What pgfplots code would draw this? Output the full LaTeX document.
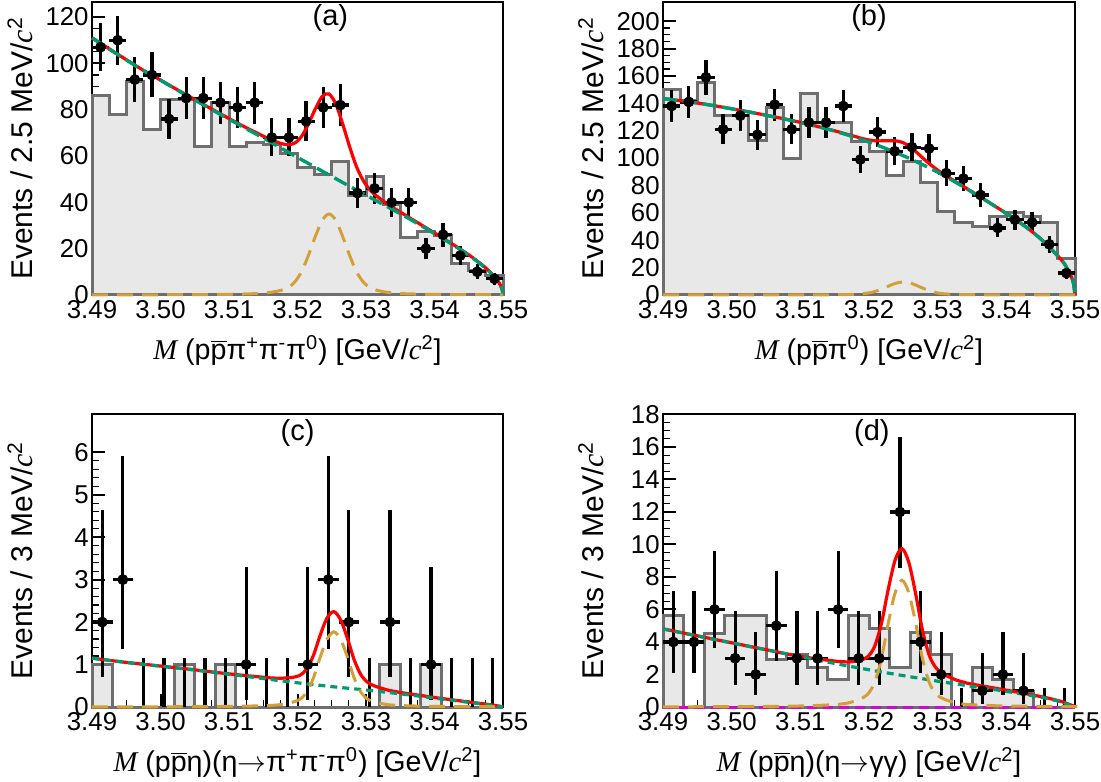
\documentclass[border=0pt]{standalone}
\usepackage{fontspec}
\setmainfont{Liberation Sans}
\newfontfamily\tms{Liberation Serif}
\usepackage{pgfplots}
\pgfplotsset{compat=1.18}

\definecolor{fitred}{RGB}{255,0,0}
\definecolor{bkggreen}{RGB}{0,155,115}
\definecolor{siggold}{RGB}{210,160,55}
\definecolor{histgray}{RGB}{110,110,110}
\definecolor{histfill}{RGB}{232,232,232}
\definecolor{pkmag}{RGB}{220,0,220}

\newcommand{\cc}{{\tms\itshape c}\textsuperscript{2}}
\newcommand{\MM}{{\tms\itshape M}~}
\newcommand{\pbar}{$\overline{\hbox{p}}$}

\tikzset{lett/.style={font=\fontsize{14.5}{16}\selectfont}}

\pgfplotsset{
  panel/.style={
    scale only axis, anchor=south west, clip=false,
    xmin=3.49, xmax=3.55, ymin=0,
    xtick={3.49,3.50,3.51,3.52,3.53,3.54,3.55},
    xticklabels={3.49,3.50,3.51,3.52,3.53,3.54,3.55},
    minor x tick num=3,
    tick pos=left, tick align=inside,
    major tick length=6.5pt, minor tick length=3.3pt,
    every major tick/.append style={line width=1pt, black},
    every minor tick/.append style={line width=0.6pt, black},
    axis line style={line width=1pt},
    /pgf/number format/assume math mode=true,
    tick label style={font=\fontsize{12.9}{14}\selectfont},
    yticklabel style={inner sep=1.5pt},
    xticklabel style={inner sep=2.5pt},
    xlabel style={font=\fontsize{14.3}{16}\selectfont, at={(axis description cs:0.5,-0.19)}, anchor=center},
    ylabel style={font=\fontsize{15}{16}\selectfont, at={(axis description cs:-0.175,0.5)}, anchor=center},
  },
  hist/.style={const plot, fill=histfill, draw=histgray, line width=1.5pt, mark=none},
  dat/.style={only marks, mark=*, mark size=2.5pt, black,
    error bars/x dir=both, error bars/x explicit,
    error bars/y dir=both, error bars/y explicit,
    error bars/error bar style={line width=1.6pt},
    error bars/error mark=none},
  zero/.style={ycomb, line width=1.6pt, black, mark=none},
  tot/.style={fitred, line width=1.6pt, mark=none, smooth},
  bkgA/.style={bkggreen, line width=1.7pt, mark=none, smooth, dash pattern=on 7pt off 3pt},
  bkgC/.style={bkggreen, line width=1.6pt, mark=none, smooth, dash pattern=on 3.5pt off 2.5pt},
  sig/.style={siggold, line width=1.5pt, mark=none, smooth, dash pattern=on 8pt off 4.5pt},
}

\begin{document}
\begin{tikzpicture}
\useasboundingbox (0,0) rectangle (550.5pt,390.5pt);

% ---------------- (a)
\begin{axis}[panel, at={(46pt,243pt)}, width=205.5pt, height=146.5pt,
  ymax=126.5, ytick={0,20,...,120}, minor y tick num=3,
  xlabel={\MM(p\pbar π\textsuperscript{+}π\textsuperscript{-}π\textsuperscript{0}) [GeV/\cc]},
  ylabel={Events / 2.5 MeV/\cc}]
\addplot[hist] coordinates {
(3.4900,86) (3.4925,78) (3.4950,92) (3.4975,71.5) (3.5000,84.5) (3.5025,84.5)
(3.5050,64) (3.5075,83) (3.5100,64) (3.5125,66) (3.5150,65) (3.5175,61)
(3.5200,55) (3.5225,52) (3.5250,57.5) (3.5275,43) (3.5300,51) (3.5325,39)
(3.5350,25) (3.5375,27.5) (3.5400,25.5) (3.5425,13.7) (3.5450,10.5) (3.5475,8.3)
(3.5500,8.3)} \closedcycle;
\addplot[dat] coordinates {
(3.49125,107) +- (0.00125,10.3) (3.49375,110) +- (0.00125,10.5)
(3.49625,93) +- (0.00125,9.6) (3.49875,95) +- (0.00125,9.7)
(3.50125,76) +- (0.00125,8.7) (3.50375,85) +- (0.00125,9.2)
(3.50625,85) +- (0.00125,9.2) (3.50875,83) +- (0.00125,9.1)
(3.51125,81) +- (0.00125,9.0) (3.51375,83) +- (0.00125,9.1)
(3.51625,68) +- (0.00125,8.2) (3.51875,68) +- (0.00125,8.2)
(3.52125,75) +- (0.00125,8.7) (3.52375,81) +- (0.00125,9.0)
(3.52625,82) +- (0.00125,9.1) (3.52875,44) +- (0.00125,6.6)
(3.53125,46) +- (0.00125,6.8) (3.53375,40) +- (0.00125,6.3)
(3.53625,40) +- (0.00125,6.3) (3.53875,20) +- (0.00125,4.5)
(3.54125,26) +- (0.00125,5.1) (3.54375,17) +- (0.00125,4.1)
(3.54625,10) +- (0.00125,3.2) (3.54875,7) +- (0.00125,2.6)};
\addplot[tot] coordinates {
(3.4900,111.05) (3.4925,106.3) (3.4950,101.6) (3.4975,97.0) (3.5000,92.8)
(3.5025,88.55) (3.5050,84.4) (3.5075,80.25) (3.5100,76.2) (3.5125,72.25)
(3.5146,69.2) (3.5156,67.7) (3.5166,66.5) (3.5176,65.4) (3.5186,64.9)
(3.5196,65.6) (3.5206,68.5) (3.5216,73.9) (3.5226,80.3) (3.5236,85.7)
(3.5246,86.8) (3.5256,82.4) (3.5266,73.8) (3.5276,64.1) (3.5286,55.5)
(3.5296,49.4) (3.5306,45.3) (3.5316,42.6) (3.5326,40.4) (3.5336,38.3)
(3.5346,36.5) (3.5375,31.3) (3.5400,26.8) (3.5425,22.2) (3.5450,17.35)
(3.5465,14.05) (3.5475,11.63) (3.5485,8.72) (3.5492,6.2) (3.5496,4.4)
(3.5499,2.2) (3.5500,0)};
\addplot[bkgA] coordinates {
(3.4900,111.0) (3.4925,106.2) (3.4950,101.5) (3.4975,96.9) (3.5000,92.7)
(3.5025,88.4) (3.5050,84.2) (3.5075,80.0) (3.5100,75.9) (3.5125,71.8)
(3.5150,67.8) (3.5175,63.6) (3.5200,59.4) (3.5225,55.3) (3.5250,51.2)
(3.5275,47.1) (3.5300,43.1) (3.5325,39.1) (3.5350,35.1) (3.5375,30.9)
(3.5400,26.5) (3.5425,22.0) (3.5450,17.2) (3.5465,13.9) (3.5475,11.5)
(3.5485,8.6) (3.5492,6.1) (3.5496,4.3) (3.5499,2.1) (3.5500,0)};
\addplot[sig] coordinates {
(3.4900,0.05) (3.4996,0.1) (3.5046,0.16) (3.5096,0.28) (3.5126,0.46)
(3.5146,0.7) (3.5156,0.98) (3.5166,1.4) (3.5176,2.03) (3.5186,3.15)
(3.5196,5.6) (3.5206,10.15) (3.5216,17.15) (3.5226,25.2) (3.5236,32.2)
(3.5246,35) (3.5256,32.2) (3.5266,25.2) (3.5276,17.15) (3.5286,10.15)
(3.5296,5.6) (3.5306,3.15) (3.5316,2.03) (3.5326,1.4) (3.5336,0.98)
(3.5346,0.7) (3.5366,0.46) (3.5396,0.28) (3.5446,0.16) (3.5500,0.1)};
\node[lett] at (rel axis cs:0.58,0.945) {(a)};
\end{axis}

% ---------------- (b)
\begin{axis}[panel, at={(331.5pt,243pt)}, width=206pt, height=146.5pt,
  ymax=214, ytick={0,20,...,200}, minor y tick num=3,
  xlabel={\MM(p\pbar π\textsuperscript{0}) [GeV/\cc]},
  ylabel={Events / 2.5 MeV/\cc}]
\addplot[hist] coordinates {
(3.4900,150) (3.4925,142) (3.4950,155) (3.4975,131) (3.5000,131) (3.5025,113)
(3.5050,137) (3.5075,100) (3.5100,147) (3.5125,126) (3.5150,126) (3.5175,112)
(3.5200,104.6) (3.5225,87.6) (3.5250,97.3) (3.5275,82) (3.5300,60.8) (3.5325,52.8)
(3.5350,49.9) (3.5375,57.2) (3.5400,60) (3.5425,57.2) (3.5450,52.8) (3.5475,26.8)
(3.5500,26.8)} \closedcycle;
\addplot[dat] coordinates {
(3.49125,138) +- (0.00125,11.7) (3.49375,141) +- (0.00125,11.9)
(3.49625,159) +- (0.00125,12.6) (3.49875,121) +- (0.00125,11.0)
(3.50125,131) +- (0.00125,11.4) (3.50375,117) +- (0.00125,10.8)
(3.50625,139) +- (0.00125,11.8) (3.50875,121) +- (0.00125,11.0)
(3.51125,126) +- (0.00125,11.2) (3.51375,126) +- (0.00125,11.2)
(3.51625,138) +- (0.00125,11.7) (3.51875,99) +- (0.00125,9.9)
(3.52125,119) +- (0.00125,10.9) (3.52375,105) +- (0.00125,10.2)
(3.52625,108) +- (0.00125,10.4) (3.52875,107) +- (0.00125,10.3)
(3.53125,89) +- (0.00125,9.4) (3.53375,85) +- (0.00125,9.2)
(3.53625,73) +- (0.00125,8.5) (3.53875,49) +- (0.00125,7.0)
(3.54125,55) +- (0.00125,7.4) (3.54375,53) +- (0.00125,7.3)
(3.54625,37) +- (0.00125,6.1) (3.54875,16) +- (0.00125,4.0)};
\addplot[tot] coordinates {
(3.4900,143.5) (3.4925,141.9) (3.4950,140.2) (3.4975,138.2) (3.5000,136.0)
(3.5025,133.7) (3.5050,131.3) (3.5075,128.8) (3.5100,126.1) (3.5125,123.1)
(3.5150,119.9) (3.5160,118.5) (3.5170,117.1) (3.5180,115.75) (3.5190,114.3)
(3.5200,113.2) (3.5210,112.6) (3.5220,112.6) (3.5230,112.7) (3.5240,112.5)
(3.5250,111.2) (3.5260,108.1) (3.5270,103.9) (3.5280,99.3) (3.5290,95.0)
(3.5300,91.2) (3.5310,87.8) (3.5320,84.65) (3.5330,81.6) (3.5340,78.5)
(3.5350,75.4) (3.5375,67.6) (3.5400,59.55) (3.5425,51.05) (3.5450,41.0)
(3.5475,28.5) (3.5485,22.5) (3.5490,18.0) (3.5495,13.0) (3.5498,8.0) (3.5500,0)};
\addplot[bkgA] coordinates {
(3.4900,143.5) (3.4925,141.9) (3.4950,140.2) (3.4975,138.2) (3.5000,136.0)
(3.5025,133.7) (3.5050,131.3) (3.5075,128.7) (3.5100,126.0) (3.5125,123.0)
(3.5150,119.7) (3.5175,115.9) (3.5200,111.7) (3.5225,106.9) (3.5250,101.7)
(3.5275,95.9) (3.5300,89.7) (3.5325,82.7) (3.5350,75.2) (3.5375,67.5)
(3.5400,59.5) (3.5425,51.0) (3.5450,41.0) (3.5475,28.5) (3.5485,22.5)
(3.5490,18.0) (3.5495,13.0) (3.5498,8.0) (3.5500,0)};
\addplot[sig] coordinates {
(3.4900,0.01) (3.5000,0.03) (3.5100,0.08) (3.5150,0.19) (3.5160,0.27)
(3.5170,0.38) (3.5180,0.55) (3.5190,0.86) (3.5200,1.52) (3.5210,2.76)
(3.5220,4.66) (3.5230,6.84) (3.5240,8.74) (3.5250,9.5) (3.5260,8.74)
(3.5270,6.84) (3.5280,4.66) (3.5290,2.76) (3.5300,1.52) (3.5310,0.86)
(3.5320,0.55) (3.5330,0.38) (3.5340,0.27) (3.5350,0.19) (3.5400,0.08) (3.5500,0.03)};
\node[lett] at (rel axis cs:0.50,0.945) {(b)};
\end{axis}

% ---------------- (c)
\begin{axis}[panel, at={(46pt,37pt)}, width=205.5pt, height=146.5pt,
  ymax=6.9, ytick={0,1,...,6}, minor y tick num=4,
  xlabel={\MM(p\pbar η)(η$\rightarrow$π\textsuperscript{+}π\textsuperscript{-}π\textsuperscript{0}) [GeV/\cc]},
  ylabel={Events / 3 MeV/\cc}]
\addplot[hist] coordinates {
(3.490,1) (3.493,0) (3.496,0) (3.499,0) (3.502,1) (3.505,0) (3.508,1)
(3.511,0) (3.514,0) (3.517,0) (3.520,0) (3.523,0) (3.526,0) (3.529,0)
(3.532,1) (3.535,0) (3.538,1) (3.541,0) (3.544,0) (3.547,0) (3.550,0)} \closedcycle;
\addplot[zero] coordinates {
(3.4975,1.15) (3.5005,1.15) (3.5035,1.15) (3.5065,1.15) (3.5095,1.15) (3.5155,1.15)
(3.5185,1.15) (3.5305,1.15) (3.5365,1.15) (3.5425,1.15) (3.5455,1.15) (3.5485,1.15)};
\addplot[dat] coordinates {
(3.4915,2) += (0.0015,2.638) -= (0.0015,1.292)
(3.4945,3) += (0.0015,2.918) -= (0.0015,1.633)
(3.5125,1) += (0.0015,2.300) -= (0.0015,0.827)
(3.5215,1) += (0.0015,2.300) -= (0.0015,0.827)
(3.5245,3) += (0.0015,2.918) -= (0.0015,1.633)
(3.5275,2) += (0.0015,2.638) -= (0.0015,1.292)
(3.5335,2) += (0.0015,2.638) -= (0.0015,1.292)
(3.5395,1) += (0.0015,2.300) -= (0.0015,0.827)};
\addplot[tot] coordinates {
(3.4900,1.15) (3.4950,1.05) (3.5000,0.965) (3.5050,0.875) (3.5100,0.78)
(3.5153,0.696) (3.5163,0.684) (3.5173,0.677) (3.5183,0.684) (3.5193,0.699)
(3.5203,0.742) (3.5213,0.885) (3.5223,1.206) (3.5233,1.685) (3.5243,2.094)
(3.5253,2.245) (3.5263,2.052) (3.5273,1.611) (3.5283,1.100) (3.5293,0.747)
(3.5303,0.572) (3.5313,0.492) (3.5323,0.439) (3.5333,0.394) (3.5343,0.363)
(3.5353,0.336) (3.5400,0.224) (3.5450,0.118) (3.5480,0.056) (3.5500,0.005)};
\addplot[bkgC] coordinates {
(3.490,1.15) (3.495,1.05) (3.500,0.96) (3.505,0.87) (3.510,0.77) (3.515,0.67)
(3.520,0.57) (3.525,0.48) (3.530,0.40) (3.535,0.31) (3.540,0.21) (3.545,0.11)
(3.548,0.05) (3.550,0)};
\addplot[sig] coordinates {
(3.4900,0.003) (3.5003,0.005) (3.5103,0.014) (3.5153,0.032) (3.5163,0.04)
(3.5173,0.053) (3.5183,0.08) (3.5193,0.115) (3.5203,0.177) (3.5213,0.336)
(3.5223,0.673) (3.5233,1.168) (3.5243,1.593) (3.5253,1.77) (3.5263,1.593)
(3.5273,1.168) (3.5283,0.673) (3.5293,0.336) (3.5303,0.177) (3.5313,0.115)
(3.5323,0.08) (3.5333,0.053) (3.5343,0.04) (3.5353,0.032) (3.5403,0.014) (3.5500,0.005)};
\node[lett] at (rel axis cs:0.50,0.935) {(c)};
\end{axis}

% ---------------- (d)
\begin{axis}[panel, at={(331.5pt,37pt)}, width=206pt, height=146.5pt,
  ymax=18.03, ytick={0,2,...,18}, minor y tick num=3,
  xlabel={\MM(p\pbar η)(η$\rightarrow$γγ) [GeV/\cc]},
  ylabel={Events / 3 MeV/\cc}]
\addplot[hist] coordinates {
(3.490,5.6) (3.493,0) (3.496,4.5) (3.499,5.6) (3.502,5.6) (3.505,2.9) (3.508,3.2)
(3.511,2.4) (3.514,1.7) (3.517,5.6) (3.520,4.8) (3.523,2.4) (3.526,4.6) (3.529,3.2)
(3.532,0) (3.535,2.4) (3.538,1.7) (3.541,0.95) (3.544,0) (3.547,0) (3.550,0)} \closedcycle;
\addplot[zero] coordinates {(3.5335,1.2) (3.5455,1.2) (3.5485,1.2)};
\addplot[dat] coordinates {
(3.4915,4) += (0.0015,3.163) -= (0.0015,1.914)
(3.4945,4) += (0.0015,3.163) -= (0.0015,1.914)
(3.4975,6) += (0.0015,3.584) -= (0.0015,2.380)
(3.5005,3) += (0.0015,2.918) -= (0.0015,1.633)
(3.5035,2) += (0.0015,2.638) -= (0.0015,1.292)
(3.5065,5) += (0.0015,3.382) -= (0.0015,2.160)
(3.5095,3) += (0.0015,2.918) -= (0.0015,1.633)
(3.5125,3) += (0.0015,2.918) -= (0.0015,1.633)
(3.5155,6) += (0.0015,3.584) -= (0.0015,2.380)
(3.5185,3) += (0.0015,2.918) -= (0.0015,1.633)
(3.5215,3) += (0.0015,2.918) -= (0.0015,1.633)
(3.5245,12) += (0.0015,4.598) -= (0.0015,3.454)
(3.5275,4) += (0.0015,3.163) -= (0.0015,1.914)
(3.5305,2) += (0.0015,2.638) -= (0.0015,1.292)
(3.5365,1) += (0.0015,2.300) -= (0.0015,0.827)
(3.5395,2) += (0.0015,2.638) -= (0.0015,1.292)
(3.5425,1) += (0.0015,2.300) -= (0.0015,0.827)};
\addplot[pkmag, line width=1.5pt, mark=none, dash pattern=on 5pt off 3pt] coordinates {(3.49,0) (3.55,0)};
\addplot[tot] coordinates {
(3.4900,4.81) (3.4950,4.38) (3.5000,3.95) (3.5050,3.53) (3.5100,3.11)
(3.5148,2.837) (3.5158,2.798) (3.5168,2.774) (3.5178,2.812) (3.5188,2.894)
(3.5198,3.086) (3.5208,3.712) (3.5218,5.12) (3.5228,7.238) (3.5238,9.036)
(3.5248,9.744) (3.5258,8.896) (3.5268,6.958) (3.5278,4.70) (3.5288,3.152)
(3.5298,2.384) (3.5308,2.049) (3.5318,1.825) (3.5328,1.645) (3.5338,1.527)
(3.5348,1.423) (3.5400,1.035) (3.5450,0.645) (3.5480,0.34) (3.5500,0.02)};
\addplot[bkgC] coordinates {
(3.490,4.80) (3.495,4.37) (3.500,3.94) (3.505,3.52) (3.510,3.10) (3.515,2.68)
(3.520,2.29) (3.525,1.93) (3.530,1.59) (3.535,1.27) (3.540,0.96) (3.545,0.60)
(3.548,0.31) (3.550,0)};
\addplot[sig] coordinates {
(3.4900,0.012) (3.4998,0.023) (3.5098,0.062) (3.5148,0.14) (3.5158,0.18)
(3.5168,0.234) (3.5178,0.35) (3.5188,0.51) (3.5198,0.78) (3.5208,1.48)
(3.5218,2.96) (3.5228,5.15) (3.5238,7.02) (3.5248,7.8) (3.5258,7.02)
(3.5268,5.15) (3.5278,2.96) (3.5288,1.48) (3.5298,0.78) (3.5308,0.51)
(3.5318,0.35) (3.5328,0.234) (3.5338,0.18) (3.5348,0.14) (3.5398,0.062)
(3.5498,0.023) (3.5500,0.02)};
\node[lett] at (rel axis cs:0.507,0.935) {(d)};
\end{axis}
\end{tikzpicture}
\end{document}
